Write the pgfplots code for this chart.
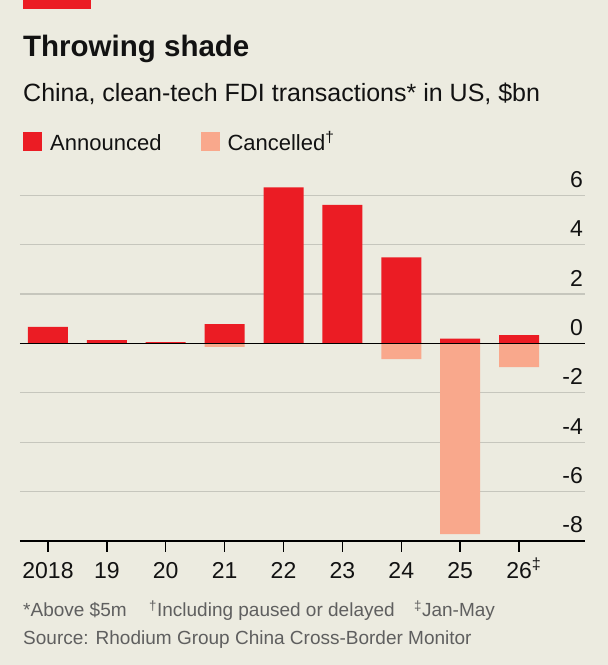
\documentclass[border=0pt]{standalone}
\usepackage{pgfplots}
\pgfplotsset{compat=1.18}
\usepackage{fontspec}
\setmainfont{Liberation Sans}
\definecolor{bg}{RGB}{236,235,224}
\definecolor{ecored}{RGB}{235,28,36}
\definecolor{salmon}{RGB}{249,168,140}
\definecolor{gridc}{RGB}{198,198,189}
\definecolor{foot}{RGB}{95,95,95}
\definecolor{ink}{RGB}{18,18,18}
\begin{document}
\begin{tikzpicture}
\fill[bg] (0pt,0pt) rectangle (608pt,665pt);
\path[use as bounding box] (0pt,0pt) rectangle (608pt,665pt);
\fill[ecored] (23pt,665pt) rectangle (91pt,656pt);
\node[anchor=base west, inner sep=0pt, text=ink, font=\fontsize{29.5}{30}\selectfont\bfseries] at (23pt,608pt) {Throwing shade};
\node[anchor=base west, inner sep=0pt, text=ink, font=\fontsize{25}{26}\selectfont] at (23pt,563pt) {China, clean-tech FDI transactions* in US, \$bn};
\begin{axis}[
  at={(20pt,124pt)}, anchor=south west,
  scale only axis, width=565pt, height=358.15pt,
  xmin=-0.475, xmax=9.12, ymin=-8, ymax=6.5,
  axis x line*=bottom, axis y line*=right,
  x axis line style={black, line width=1.4pt, -},
  y axis line style={draw=none},
  xtick={0,...,8},
  xticklabels={2018,19,20,21,22,23,24,25,{26\rlap{\textsuperscript{‡}}}},
  xtick align=outside, major tick length=11pt,
  xtick style={black, line width=1.4pt},
  ytick={-8,-6,...,6},
  ytick align=inside, ytick style={draw=none},
  yticklabel pos=right,
  ymajorgrids, grid style={gridc, line width=1.3pt},
  /pgf/number format/assume math mode=true,
  yticklabel style={anchor=base east, inner sep=0pt, xshift=-2pt, yshift=8pt, text=ink, font=\fontsize{23}{23}\selectfont},
  xticklabel style={anchor=base, inner sep=0pt, yshift=-27pt, text=ink, font=\fontsize{23}{23}\selectfont},
  legend columns=2,
  legend style={at={(axis description cs:0,1)}, anchor=south west, xshift=3pt, yshift=31.35pt,
    draw=none, fill=none, inner sep=0pt, text=ink, font=\fontsize{22}{22}\selectfont,
    nodes={inner sep=0pt, text height=18pt, text depth=1pt},
    /tikz/every odd column/.append style={column sep=8pt},
    /tikz/every even column/.append style={column sep=39pt}},
]
\addplot[ybar, bar width=40pt, bar shift=0pt, fill=ecored, draw=none,
  legend image code/.code={\fill[ecored] (0pt,-9.5pt) rectangle (19pt,9.5pt);}]
  coordinates {(0,0.67) (1,0.13) (2,0.05) (3,0.78) (4,6.32) (5,5.61) (6,3.48) (7,0.19) (8,0.34)};
\addlegendentry{Announced}
\addplot[ybar, bar width=40pt, bar shift=0pt, fill=salmon, draw=none,
  legend image code/.code={\fill[salmon] (0pt,-9.5pt) rectangle (19pt,9.5pt);}]
  coordinates {(3,-0.14) (6,-0.64) (7,-7.72) (8,-0.96)};
\addlegendentry{Cancelled\textsuperscript{†}}
\addplot[black, line width=1.6pt, mark=none, forget plot] coordinates {(-0.475,0) (9.12,0)};
\end{axis}
\begin{scope}[every node/.style={anchor=base west, inner sep=0pt, text=foot, font=\fontsize{19}{20}\selectfont}]
\node at (23pt,48pt) {*Above \$5m};
\node at (149pt,48pt) {\textsuperscript{†}Including paused or delayed};
\node at (414pt,48pt) {\textsuperscript{‡}Jan-May};
\node at (23pt,20pt) {Source: Rhodium Group China Cross-Border Monitor};
\end{scope}
\end{tikzpicture}
\end{document}
